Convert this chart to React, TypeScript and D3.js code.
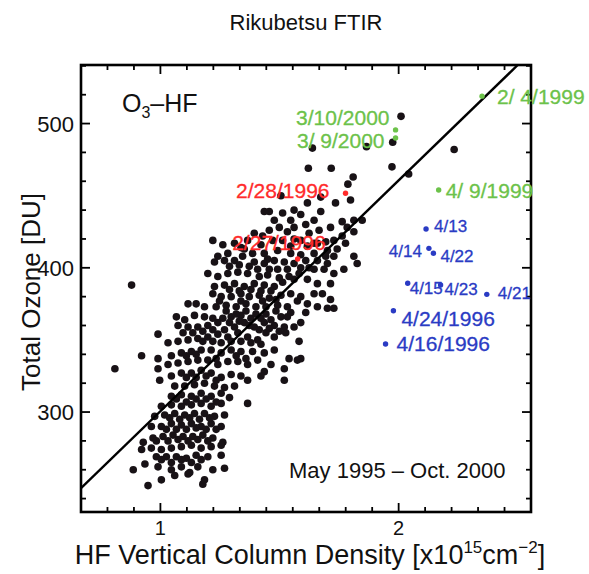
import React from "react";
import * as d3 from "d3";

// ---------- DATA ----------
// Black points: [HF column (1e15 cm^-2), Total ozone (DU)]
const blackPoints: [number, number][] = [
  [2.01, 505], [1.975, 487], [1.865, 484], [1.638, 483], [2.233, 482], [1.621, 469], [1.717, 469],
  [1.972, 470], [2.042, 465], [1.809, 463], [1.787, 458], [1.506, 450], [1.735, 445], [1.798, 447], [1.673, 449],
  [1.457, 439], [1.513, 438], [1.478, 433], [1.561, 440], [1.589, 437], [1.617, 445], [1.673, 439], [1.645, 433],
  [1.61, 430], [1.561, 428], [1.533, 425], [1.499, 428], [1.457, 426], [1.429, 422], [1.394, 424], [1.366, 419],
  [1.422, 416], [1.471, 419], [1.513, 419], [1.561, 420], [1.624, 424], [1.666, 426], [1.714, 428], [1.763, 432],
  [1.784, 428], [1.812, 433], [1.847, 433], [1.812, 425], [1.763, 422], [1.728, 419], [1.694, 418], [1.659, 417],
  [1.617, 415], [1.22, 419], [1.262, 416], [1.311, 417], [1.352, 413], [1.387, 410], [1.436, 410], [1.492, 412],
  [1.547, 410], [1.589, 409], [1.645, 410], [1.701, 412], [1.742, 413], [1.777, 417],
  [1.227, 404], [1.269, 405], [1.311, 405], [1.345, 408], [1.394, 404], [1.436, 403], [1.478, 405], [1.52, 404],
  [1.561, 403], [1.61, 405], [1.659, 405], [1.701, 403], [1.728, 408], [1.77, 399], [1.812, 408], [1.826, 403],
  [1.199, 396], [1.241, 394], [1.283, 396], [1.325, 397], [1.366, 396], [1.408, 399], [1.45, 395], [1.492, 399],
  [1.533, 399], [1.589, 400], [1.645, 399], [1.687, 399], [1.728, 396], [1.227, 387], [1.269, 388], [1.311, 389],
  [1.352, 387], [1.394, 389], [1.436, 388], [1.478, 387], [1.513, 390], [1.561, 392], [1.617, 392], [1.659, 389],
  [1.714, 389], [1.22, 382], [1.255, 380], [1.297, 380], [1.338, 382], [1.373, 380], [1.415, 381], [1.457, 379],
  [1.506, 381], [1.547, 382], [1.589, 380], [1.645, 382], [1.116, 375], [1.15, 375], [1.185, 373], [1.234, 373],
  [1.276, 374], [1.318, 373], [1.359, 375], [1.401, 373], [1.443, 373], [1.492, 374], [1.533, 373], [1.575, 377],
  [1.659, 373], [1.714, 378], [1.728, 372], [1.701, 372],
  [1.067, 366], [1.102, 364], [1.143, 367], [1.185, 366], [1.22, 365], [1.262, 365], [1.297, 366], [1.338, 367],
  [1.38, 365], [1.422, 365], [1.464, 364], [1.506, 366], [1.547, 369], [1.61, 369], [1.074, 360], [1.116, 359],
  [1.157, 359], [1.199, 360], [1.241, 362], [1.269, 357], [1.311, 359], [1.352, 362], [1.394, 359], [1.436, 362],
  [1.478, 360], [1.52, 359], [1.561, 359], [0.99, 354], [1.032, 348], [1.074, 349], [1.116, 350], [1.157, 351],
  [1.199, 352], [1.241, 354], [1.283, 352], [1.325, 355], [1.366, 352], [1.408, 350], [1.443, 355], [1.478, 352],
  [1.526, 355], [1.582, 349], [0.921, 339], [0.99, 337], [1.046, 339], [1.088, 341], [1.13, 342], [1.171, 343],
  [1.213, 343], [1.255, 341], [1.297, 343], [1.338, 342], [1.387, 342], [1.436, 341], [1.478, 343], [1.54, 337],
  [1.589, 337], [0.809, 330], [0.879, 388], [0.99, 330], [1.032, 333], [1.074, 334], [1.116, 335], [1.157, 336],
  [1.199, 336], [1.241, 333], [1.283, 335], [1.325, 335], [1.366, 333], [1.436, 328], [1.464, 333], [1.52, 330],
  [1.575, 336],
  [0.997, 322], [1.046, 325], [1.088, 327], [1.13, 327], [1.171, 329], [1.213, 327], [1.255, 324], [1.297, 326],
  [1.338, 325], [1.366, 322], [1.422, 325], [1.52, 322], [1.06, 318], [1.102, 318], [1.143, 319], [1.185, 320],
  [1.227, 318], [1.269, 317], [1.311, 318], [1.046, 311], [1.088, 312], [1.13, 311], [1.171, 313], [1.213, 311],
  [1.255, 313], [1.29, 310], [1.004, 304], [1.046, 305], [1.088, 304], [1.13, 305], [1.171, 306], [1.213, 304],
  [1.255, 306], [1.366, 306], [0.976, 297], [1.018, 298], [1.06, 299], [1.102, 298], [1.143, 299], [1.185, 299],
  [1.227, 297], [1.269, 298], [0.962, 290], [1.004, 290], [1.046, 292], [1.088, 291], [1.13, 292], [1.171, 290],
  [1.213, 292], [1.255, 290], [0.928, 279], [0.969, 282], [1.011, 283], [1.053, 284], [1.095, 283], [1.136, 283],
  [1.178, 284], [1.22, 282], [1.262, 279], [0.921, 274], [0.962, 275], [1.004, 274], [1.046, 275], [1.088, 276],
  [1.13, 277], [1.171, 275], [1.213, 276], [1.255, 277], [0.983, 269], [1.025, 269], [1.067, 269], [1.109, 268],
  [1.15, 270], [1.199, 269], [1.255, 270], [0.886, 260], [0.935, 264], [0.99, 262], [1.046, 260], [1.088, 262],
  [1.123, 258], [1.157, 262], [1.22, 260], [1.269, 261], [0.948, 249], [1.004, 253], [1.06, 256], [1.116, 257],
  [1.178, 250], [1.185, 253],
  [1.241, 408], [1.29, 401], [1.331, 402], [1.373, 401], [1.415, 394], [1.457, 399], [1.499, 393], [1.54, 394],
  [1.582, 396], [1.29, 385], [1.331, 384], [1.38, 385], [1.422, 384], [1.464, 384], [1.485, 378], [1.429, 377],
  [1.338, 377], [1.248, 377], [1.276, 370], [1.318, 368], [1.359, 370], [1.401, 368], [1.443, 368], [1.485, 370],
  [1.29, 362], [1.331, 363], [1.373, 360], [1.415, 357], [1.457, 358], [1.499, 356], [1.22, 357], [1.178, 356],
  [1.136, 355], [1.095, 355], [1.297, 349], [1.338, 349], [1.38, 348], [1.422, 347], [1.255, 348], [1.22, 349],
  [1.178, 349], [1.318, 339], [1.359, 337], [1.408, 336], [1.234, 337], [1.15, 340], [1.109, 339], [1.109, 324],
  [1.15, 324], [1.192, 325], [1.234, 322], [1.067, 309], [1.109, 307], [1.15, 309], [1.192, 309], [1.234, 307],
  [1.039, 296], [1.081, 295], [1.123, 296], [1.164, 295], [1.206, 296], [1.025, 288], [1.067, 288], [1.109, 288],
  [1.15, 289], [1.192, 288], [1.234, 288], [0.983, 280], [1.032, 280], [1.074, 281], [1.116, 280], [1.157, 281],
  [1.199, 280], [1.004, 267], [1.046, 265], [1.088, 267], [1.13, 265], [1.171, 267], [1.436, 439], [1.547, 433],
  [1.589, 419], [1.45, 406], [1.547, 415], [1.645, 417], [1.694, 408], [1.624, 400], [1.338, 414], [1.283, 410],
  [1.68, 382], [1.617, 375], [1.533, 366], [1.589, 362],
];

// Labelled special days
const greenDates = ["2/ 4/1999", "3/10/2000", "3/ 9/2000", "4/ 9/1999"];
const greenHF = [2.35, 1.987, 1.987, 2.168];
const greenO3 = [519, 495.6, 490, 453.9];

const redDates = ["2/28/1996", "2/27/1996"];
const redHF = [1.777, 1.576];
const redO3 = [451.7, 406.1];

const blueDates = ["4/13", "4/14", "4/22", "4/15", "4/23", "4/21", "4/24/1996", "4/16/1996"];
const blueHF = [2.115, 2.127, 2.146, 2.038, 2.176, 2.37, 1.978, 1.945];
const blueO3 = [426.9, 413.5, 410.1, 389.3, 388.1, 381.6, 370.2, 347.2];

// Regression line: O3 = a + b * HF
const fitIntercept = 140.6;
const fitSlope = 160;
const fitRange = [0.6667, 2.5];

const xMajorTicks = [1, 2];
const yMajorTicks = [300, 400, 500];

// ---------- LAYOUT ----------
const W = 589, H = 574;
const L = 81, R = 531, T = 65, B = 512;
const FONT = "'Liberation Sans', Arial, Helvetica, sans-serif";

const x = d3.scaleLinear().domain([2 / 3, 2 + 5 / 9]).range([L, R]);
const y = d3.scaleLinear().domain([230.7, 540.6]).range([B, T]);

const xMinor = d3.range(1, 17).map((i) => 2 / 3 + i / 9);
const yMinor = d3.range(240, 541, 20);

// label placement (dx, dy, anchor, size) per label
const greenLayout = [
  { dx: 15, dy: 8, a: "start", s: 21 },
  { dx: -6, dy: -5, a: "end", s: 21 },
  { dx: -11, dy: 10, a: "end", s: 21 },
  { dx: 7, dy: 8, a: "start", s: 21 },
];
const redLayout = [
  { dx: -16, dy: 5, a: "end", s: 21 },
  { dx: 28, dy: -9, a: "end", s: 21 },
];
const blueLayout = [
  { dx: 8, dy: 3, a: "start", s: 17 },
  { dx: -7, dy: 9, a: "end", s: 17 },
  { dx: 7, dy: 9, a: "start", s: 17 },
  { dx: 2, dy: 11, a: "start", s: 17 },
  { dx: 4, dy: 10, a: "start", s: 17 },
  { dx: 11, dy: 5, a: "start", s: 17 },
  { dx: 8, dy: 15, a: "start", s: 21 },
  { dx: 11, dy: 7, a: "start", s: 21 },
];

const GREEN = "#6cc24a";
const RED = "#ff2b2b";
const BLUE = "#2a3bc4";
const INK = "#181216";

function Labelled({ dates, hf, o3, layout, color }: any) {
  return (
    <g>
      {dates.map((d: string, i: number) => (
        <g key={d + i}>
          <circle cx={x(hf[i])} cy={y(o3[i])} r={2.7} fill={color} />
          <text
            x={x(hf[i]) + layout[i].dx}
            y={y(o3[i]) + layout[i].dy}
            textAnchor={layout[i].a}
            fontSize={layout[i].s}
            fill={color}
            stroke={color}
            strokeWidth={0.3}
            style={{ whiteSpace: "pre" }}
          >
            {d}
          </text>
        </g>
      ))}
    </g>
  );
}

export default function App() {
  const line = d3
    .line<number>()
    .x((v) => x(v))
    .y((v) => y(fitIntercept + fitSlope * v));
  return (
    <svg
      width={W}
      height={H}
      style={{ position: "absolute", left: 0, top: 0, background: "#fff" }}
      fontFamily={FONT}
    >
      <rect x={0} y={0} width={W} height={H} fill="#fff" />
      <defs>
        <clipPath id="plot">
          <rect x={L} y={T} width={R - L} height={B - T} />
        </clipPath>
      </defs>
      <text x={306} y={30} textAnchor="middle" fontSize={22} fill="#111">
        Rikubetsu FTIR
      </text>

      <g clipPath="url(#plot)">
        {blackPoints.map((p, i) => (
          <circle key={i} cx={x(p[0])} cy={y(p[1])} r={3.8} fill={INK} />
        ))}
        <path d={line(fitRange) || ""} stroke="#000" strokeWidth={2.4} fill="none" />
      </g>

      {/* frame */}
      <rect x={L} y={T} width={R - L} height={B - T} fill="none" stroke="#000" strokeWidth={2.6} />
      {/* x ticks */}
      {xMinor.map((v, i) => {
        const major = xMajorTicks.some((m) => Math.abs(m - v) < 1e-6);
        const len = major ? 9 : 5;
        return (
          <g key={"xt" + i} stroke="#000" strokeWidth={1.8}>
            <line x1={x(v)} x2={x(v)} y1={B} y2={B - len} />
            <line x1={x(v)} x2={x(v)} y1={T} y2={T + len} />
          </g>
        );
      })}
      {yMinor.map((v, i) => {
        const major = yMajorTicks.includes(v);
        const len = major ? 9 : 5;
        return (
          <g key={"yt" + i} stroke="#000" strokeWidth={1.8}>
            <line x1={L} x2={L + len} y1={y(v)} y2={y(v)} />
            <line x1={R} x2={R - len} y1={y(v)} y2={y(v)} />
          </g>
        );
      })}
      {xMajorTicks.map((v) => (
        <text key={"xl" + v} x={x(v)} y={535} textAnchor="middle" fontSize={20} fill="#111">
          {v}
        </text>
      ))}
      {yMajorTicks.map((v) => (
        <text key={"yl" + v} x={74} y={y(v) + 8} textAnchor="end" fontSize={22} fill="#111">
          {v}
        </text>
      ))}

      <text x={122} y={112} fontSize={25} fill="#111">
        O<tspan fontSize={16} dy={6}>3</tspan>
        <tspan dy={-6}>–HF</tspan>
      </text>
      <text x={289} y={478} fontSize={22} fill="#111">
        May 1995 – Oct. 2000
      </text>

      <Labelled dates={greenDates} hf={greenHF} o3={greenO3} layout={greenLayout} color={GREEN} />
      <Labelled dates={redDates} hf={redHF} o3={redO3} layout={redLayout} color={RED} />
      <Labelled dates={blueDates} hf={blueHF} o3={blueO3} layout={blueLayout} color={BLUE} />

      <text transform="translate(40,292) rotate(-90)" textAnchor="middle" fontSize={26} fill="#111">
        Total Ozone [DU]
      </text>
      <text x={310} y={564} textAnchor="middle" fontSize={27} fill="#111">
        HF Vertical Column Density [x10
        <tspan fontSize={17} dy={-11}>15</tspan>
        <tspan dy={11}>cm</tspan>
        <tspan fontSize={17} dy={-11}>−2</tspan>
        <tspan dy={11}>]</tspan>
      </text>
    </svg>
  );
}
